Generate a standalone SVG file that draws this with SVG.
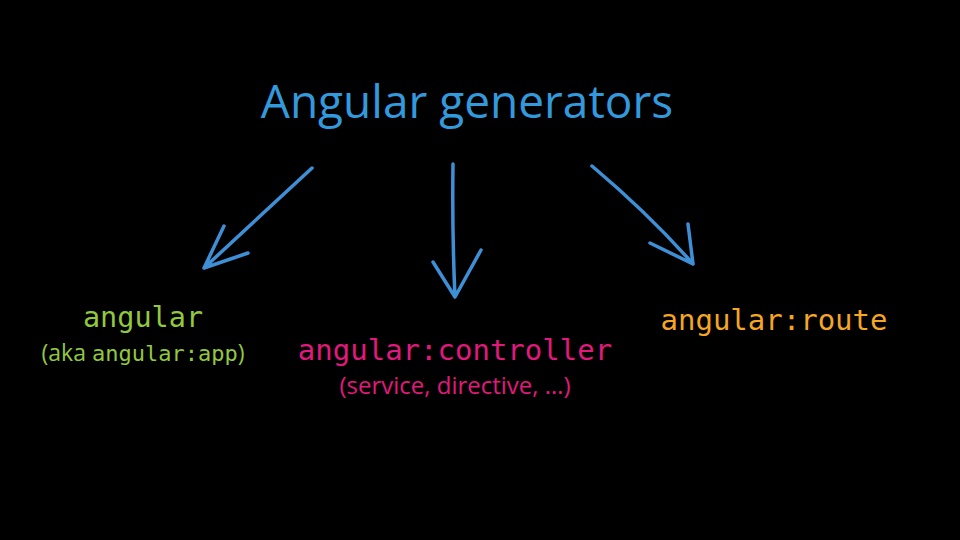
<svg xmlns="http://www.w3.org/2000/svg" width="960" height="540" viewBox="0 0 960 540">
<style>
.sans{font-family:"Open Sans","Liberation Sans",sans-serif}
.mono{font-family:"DejaVu Sans Mono","Liberation Mono",monospace}
.arr{fill:none;stroke:#3f8fd6;stroke-width:3.5;stroke-linecap:round;stroke-linejoin:round}
.g{fill:#92c83e}.m{fill:#e0197d}
</style>
<rect width="960" height="540" fill="#000"/>
<g id="title"><text x="467" y="118" text-anchor="middle" class="sans" font-size="46" fill="#3399dd">Angular generators</text></g>
<g id="connectors">
<path class="arr" d="M312,168 L204,268 M224,226 L204,268 L248,253"/>
<path class="arr" d="M453,164 Q452,230 455,297 M433,262 L455,297 L481,250"/>
<path class="arr" d="M592,166 Q650,215 693,264 M688,224 L693,264 L650,243"/>
</g>
<g id="n-angular">
<text x="143" y="327" text-anchor="middle" class="mono g" font-size="28.5">angular</text>
<text x="143" y="361" text-anchor="middle" font-size="23"><tspan class="sans g">(aka </tspan><tspan class="mono g" font-size="22">angular:app</tspan><tspan class="sans g">)</tspan></text>
</g>
<g id="n-controller">
<text x="455" y="360" text-anchor="middle" class="mono m" font-size="29">angular:controller</text>
<text x="455" y="394" text-anchor="middle" class="sans m" font-size="24">(service, directive, …)</text>
</g>
<g id="n-route"><text x="774" y="330" text-anchor="middle" class="mono" font-size="29" fill="#f5a623">angular:route</text></g>
</svg>
